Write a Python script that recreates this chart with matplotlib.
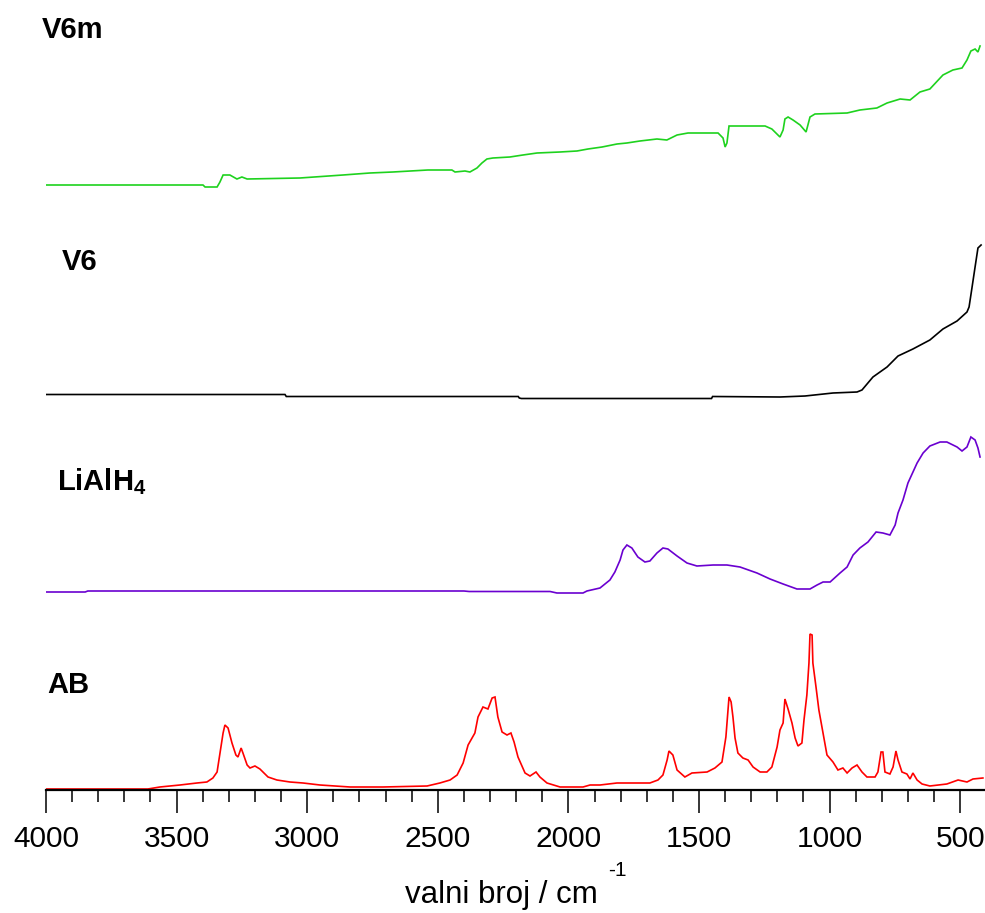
import matplotlib
matplotlib.use("Agg")
import matplotlib.pyplot as plt
from matplotlib.ticker import MultipleLocator
import numpy as np

plt.rcParams['font.family'] = ['Liberation Sans', 'DejaVu Sans']
plt.rcParams['mathtext.fontset'] = 'custom'
plt.rcParams['mathtext.rm'] = 'Liberation Sans'
plt.rcParams['mathtext.bf'] = 'Liberation Sans:bold'

# ---- data (wavenumber cm-1, stacked intensity a.u.) ----
ab_wn = [4000, 3610, 3564, 3487, 3422, 3384, 3361, 3345, 3334, 3322, 3315, 3303, 3288, 3273,
         3265, 3253, 3246, 3230, 3219, 3200, 3181, 3150, 3116, 3066, 3016, 2951, 2836, 2710,
         2541, 2492, 2453, 2426, 2403, 2384, 2358, 2346, 2327, 2308, 2292, 2281, 2270, 2254,
         2235, 2220, 2208, 2193, 2166, 2147, 2124, 2109, 2082, 2032, 1944, 1917, 1879, 1814,
         1688, 1657, 1638, 1622, 1615, 1600, 1584, 1554, 1527, 1469, 1439, 1412, 1397, 1385,
         1377, 1370, 1362, 1351, 1332, 1312, 1293, 1266, 1240, 1221, 1201, 1190, 1178, 1171,
         1159, 1144, 1132, 1121, 1106, 1098, 1087, 1079, 1075, 1067, 1064, 1052, 1041, 1025,
         1010, 987, 968, 949, 933, 914, 895, 876, 857, 826, 815, 803, 796, 788, 769, 757, 746,
         738, 723, 704, 692, 681, 665, 646, 616, 551, 508, 474, 451, 413]
ab_y = [0.01, 0.01, 0.03, 0.05, 0.07, 0.08, 0.12, 0.18, 0.37, 0.57, 0.65, 0.62, 0.47, 0.35,
        0.33, 0.42, 0.37, 0.25, 0.22, 0.24, 0.21, 0.13, 0.10, 0.08, 0.07, 0.05, 0.03, 0.03,
        0.04, 0.07, 0.10, 0.15, 0.27, 0.45, 0.57, 0.73, 0.83, 0.81, 0.92, 0.93, 0.73, 0.58,
        0.55, 0.57, 0.48, 0.33, 0.17, 0.14, 0.18, 0.13, 0.07, 0.03, 0.03, 0.05, 0.05, 0.07,
        0.07, 0.10, 0.15, 0.30, 0.39, 0.35, 0.20, 0.13, 0.17, 0.18, 0.22, 0.28, 0.53, 0.93,
        0.88, 0.73, 0.52, 0.37, 0.32, 0.30, 0.23, 0.18, 0.18, 0.23, 0.43, 0.60, 0.67, 0.91,
        0.81, 0.67, 0.52, 0.44, 0.47, 0.70, 0.95, 1.27, 1.56, 1.55, 1.27, 1.03, 0.80, 0.57,
        0.35, 0.28, 0.20, 0.22, 0.17, 0.22, 0.25, 0.18, 0.13, 0.13, 0.18, 0.38, 0.38, 0.18, 0.16, 0.23, 0.39,
        0.30, 0.18, 0.16, 0.11, 0.17, 0.10, 0.06, 0.04, 0.06, 0.10, 0.08, 0.11, 0.12]

li_wn = [4000, 3850, 3840, 2400, 2380, 2070, 2044, 1944, 1929, 1879, 1841, 1822, 1802, 1791,
         1776, 1757, 1734, 1707, 1688, 1661, 1638, 1619, 1584, 1546, 1508, 1446, 1393, 1343,
         1278, 1228, 1178, 1125, 1075, 1048, 1025, 998, 960, 933, 910, 884, 853, 822, 796,
         769, 749, 738, 719, 700, 665, 642, 616, 577, 551, 512, 493, 474, 459, 443, 432, 424]
li_y = [1.98, 1.98, 1.99, 1.99, 1.985, 1.985, 1.97, 1.97, 1.99, 2.02, 2.10, 2.18, 2.30, 2.40,
        2.45, 2.42, 2.33, 2.28, 2.29, 2.37, 2.42, 2.41, 2.34, 2.27, 2.24, 2.25, 2.25, 2.23,
        2.17, 2.11, 2.06, 2.01, 2.01, 2.05, 2.08, 2.08, 2.17, 2.23, 2.35, 2.42, 2.48, 2.58,
        2.57, 2.55, 2.65, 2.77, 2.90, 3.07, 3.27, 3.37, 3.44, 3.48, 3.48, 3.43, 3.39, 3.43,
        3.53, 3.50, 3.42, 3.33]

v6_wn = [4000, 3085, 3080, 2192, 2188, 2180, 1452, 1448, 1190, 1094, 987, 895, 876, 834, 780,
         738, 681, 616, 566, 512, 474, 466, 455, 443, 432, 420]
v6_y = [3.955, 3.955, 3.935, 3.935, 3.92, 3.915, 3.915, 3.935, 3.93, 3.94, 3.97, 3.98, 4.00,
        4.13, 4.23, 4.34, 4.41, 4.50, 4.61, 4.69, 4.78, 4.83, 5.02, 5.23, 5.42, 5.45]

v6m_wn = [4000, 3399, 3391, 3345, 3334, 3322, 3296, 3269, 3250, 3230, 3028, 2863, 2760, 2672,
          2538, 2446, 2434, 2396, 2377, 2350, 2331, 2312, 2289, 2224, 2174, 2120, 2032, 1967,
          1925, 1871, 1814, 1776, 1726, 1661, 1623, 1584, 1542, 1427, 1408, 1400, 1393, 1385,
          1247, 1221, 1190, 1178, 1171, 1159, 1140, 1113, 1090, 1075, 1056, 933, 884, 819,
          780, 730, 692, 654, 616, 566, 528, 493, 474, 459, 443, 432, 424]
v6m_y = [6.05, 6.05, 6.03, 6.03, 6.08, 6.15, 6.15, 6.11, 6.13, 6.11, 6.12, 6.15, 6.17, 6.18,
         6.20, 6.20, 6.18, 6.19, 6.18, 6.22, 6.27, 6.31, 6.32, 6.33, 6.35, 6.37, 6.38, 6.39,
         6.41, 6.43, 6.46, 6.47, 6.49, 6.51, 6.50, 6.55, 6.57, 6.57, 6.52, 6.43, 6.47, 6.64,
         6.64, 6.61, 6.53, 6.60, 6.71, 6.73, 6.70, 6.65, 6.58, 6.73, 6.76, 6.77, 6.80, 6.82,
         6.87, 6.91, 6.90, 6.98, 7.01, 7.15, 7.20, 7.22, 7.30, 7.39, 7.41, 7.38, 7.44]

labels = ["AB", r"LiAlH$_\mathbf{4}$", "V6", "V6m"]
colors = ["#ff0000", "#6a00d0", "#000000", "#1ed21e"]
xticks = [4000, 3500, 3000, 2500, 2000, 1500, 1000, 500]
xlabel_main = "valni broj / cm"
xlabel_sup = "-1"

W, H = 985, 913
fig = plt.figure(figsize=(W / 100, H / 100), dpi=100)
ax = fig.add_axes([46 / W, 123 / H, 939 / W, 790 / H])

series = [(ab_wn, ab_y), (li_wn, li_y), (v6_wn, v6_y), (v6m_wn, v6m_y)]
for (wn, y), c in zip(series, colors):
    ax.plot(wn, y, color=c, lw=1.2, solid_joinstyle='miter')

ax.set_xlim(4000, 405)
ax.set_ylim(0, 7.9)
for s in ['top', 'left', 'right']:
    ax.spines[s].set_visible(False)
ax.spines['bottom'].set_linewidth(1.6)
ax.set_yticks([])
ax.set_xticks(xticks)
ax.xaxis.set_minor_locator(MultipleLocator(100))
ax.tick_params(axis='x', which='major', direction='out', length=16.5, width=1.1,
               labelsize=21.5, pad=9)
ax.tick_params(axis='x', which='minor', direction='out', length=8.6, width=1.1)

# x-axis title with raised superscript
t_main = fig.text(501 / W, 1 - 903 / H, xlabel_main, fontsize=22.5,
                  ha='center', va='baseline')
fig.canvas.draw()
bb = t_main.get_window_extent()
fig.text((bb.x1 + 11) / W, 1 - 876 / H, xlabel_sup, fontsize=15,
         ha='left', va='baseline')

# spectrum labels (positions in pixel of the figure)
label_pos = [(47, 693), (57, 490), (62, 270), (42, 38)]
for txt, (px, py) in zip(labels, label_pos):
    fig.text(px / W, 1 - py / H, txt, fontsize=21, fontweight='bold',
             ha='left', va='baseline')

fig.savefig("out.png", dpi=100)
